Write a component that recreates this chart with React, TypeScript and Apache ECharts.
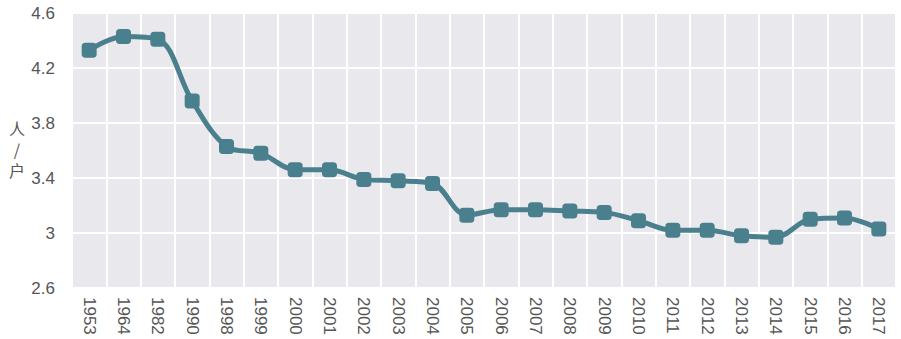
import React, { useEffect, useRef } from "react";
import * as echarts from "echarts";

const years = [
  "1953", "1964", "1982", "1990", "1998", "1999", "2000", "2001", "2002", "2003",
  "2004", "2005", "2006", "2007", "2008", "2009", "2010", "2011", "2012", "2013",
  "2014", "2015", "2016", "2017",
];
const householdSize = [
  4.33, 4.43, 4.41, 3.96, 3.63, 3.58, 3.46, 3.46, 3.39, 3.38,
  3.36, 3.13, 3.17, 3.17, 3.16, 3.15, 3.09, 3.02, 3.02, 2.98,
  2.97, 3.1, 3.11, 3.03,
];
const yMin = 2.6;
const yMax = 4.6;
const yStep = 0.4;
const yNameChars = ["人", "/", "户"];

export default function App() {
  const ref = useRef<HTMLDivElement>(null);
  useEffect(() => {
    document.body.style.margin = "0";
    const chart = echarts.init(ref.current!, null, { renderer: "svg" });
    const font = "'Liberation Sans', Arial, sans-serif";
    chart.setOption({
      animation: false,
      backgroundColor: "#ffffff",
      grid: {
        left: 72,
        right: 5,
        top: 13,
        bottom: 51,
        show: true,
        backgroundColor: "#E9E9ED",
        borderWidth: 0,
      },
      graphic: yNameChars.map((ch, i) => ({
        type: "text",
        x: 17,
        y: 128 + i * 21,
        style: {
          text: ch,
          fill: "#555555",
          fontSize: 16,
          fontFamily: "'Noto Sans CJK SC', sans-serif",
          align: "center",
          verticalAlign: "middle",
        },
      })),
      xAxis: {
        type: "category",
        data: years,
        boundaryGap: true,
        axisLine: { show: false },
        axisTick: { show: false },
        axisLabel: {
          rotate: -90,
          interval: 0,
          margin: 9,
          color: "#555555",
          fontSize: 17,
          fontFamily: font,
        },
        splitLine: {
          show: true,
          interval: 0,
          lineStyle: { color: "#ffffff", width: 2 },
        },
      },
      yAxis: {
        type: "value",
        min: yMin,
        max: yMax,
        interval: yStep,
        axisLine: { show: false },
        axisTick: { show: false },
        axisLabel: {
          margin: 17,
          color: "#555555",
          fontSize: 17,
          fontFamily: font,
          formatter: (v: number) => String(+v.toFixed(1)),
        },
        splitLine: { show: true, lineStyle: { color: "#ffffff", width: 2 } },
      },
      series: [
        {
          type: "line",
          data: householdSize,
          smooth: 0.35,
          symbol: "roundRect",
          symbolSize: 15,
          lineStyle: { color: "#4A7F8E", width: 5 },
          itemStyle: { color: "#4A7F8E" },
        },
      ],
    });
    return () => chart.dispose();
  }, []);
  return <div ref={ref} style={{ width: 901, height: 339 }} />;
}
